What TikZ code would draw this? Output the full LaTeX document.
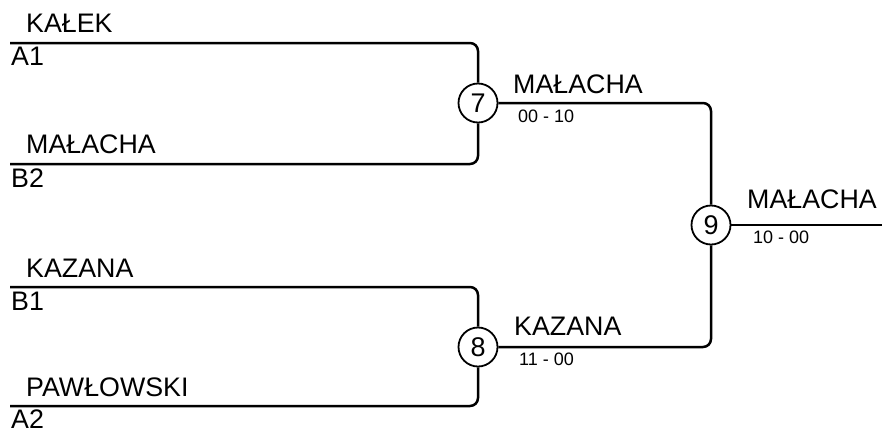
\documentclass[tikz,border=0pt]{standalone}
\usepackage{fontspec}
\setmainfont{Liberation Sans}
\begin{document}
\begin{tikzpicture}[x=1pt, y=-1pt,
  line/.style={line width=2.5pt, rounded corners=8pt},
  game/.style={circle, draw, line width=1.8pt, minimum size=39pt, inner sep=0pt, fill=white, font=\fontsize{27}{27}\selectfont},
  player/.style={anchor=base west, inner sep=0pt, font=\fontsize{26.8}{27}\selectfont},
  score/.style={anchor=base west, inner sep=0pt, font=\fontsize{18}{18}\selectfont}]
\useasboundingbox (0,0) rectangle (882,432);
% slot lines
\coordinate (a1) at (10,43);
\coordinate (b2) at (10,164);
\coordinate (b1) at (10,287);
\coordinate (a2) at (10,406);
\coordinate (final) at (882,225);
% games
\node[game] (m7) at (478,103) {7};
\node[game] (m8) at (478,347) {8};
\node[game] (m9) at (711,225) {9};
\draw[line] (a1) -| (m7);
\draw[line] (b2) -| (m7);
\draw[line] (b1) -| (m8);
\draw[line] (a2) -| (m8);
\draw[line] (m7) -| (m9);
\draw[line] (m8) -| (m9);
\draw[line] (m9) -- (final);
% players
\node[player] (p1) at (26,32) {KAŁEK};
\node[player] (s1) at (11,65) {A1};
\node[player] (p2) at (26,153) {MAŁACHA};
\node[player] (s2) at (11,187) {B2};
\node[player] (p3) at (26,277) {KAZANA};
\node[player] (s3) at (11,310) {B1};
\node[player] (p4) at (26,396) {PAWŁOWSKI};
\node[player] (s4) at (11,428) {A2};
% winners
\node[player] (w7) at (513,93) {MAŁACHA};
\node[score] (r7) at (518,122) {00 - 10};
\node[player] (w8) at (514,335) {KAZANA};
\node[score] (r8) at (519,365) {11 - 00};
\node[player] (w9) at (747,208) {MAŁACHA};
\node[score] (r9) at (753,243) {10 - 00};
\end{tikzpicture}
\end{document}
